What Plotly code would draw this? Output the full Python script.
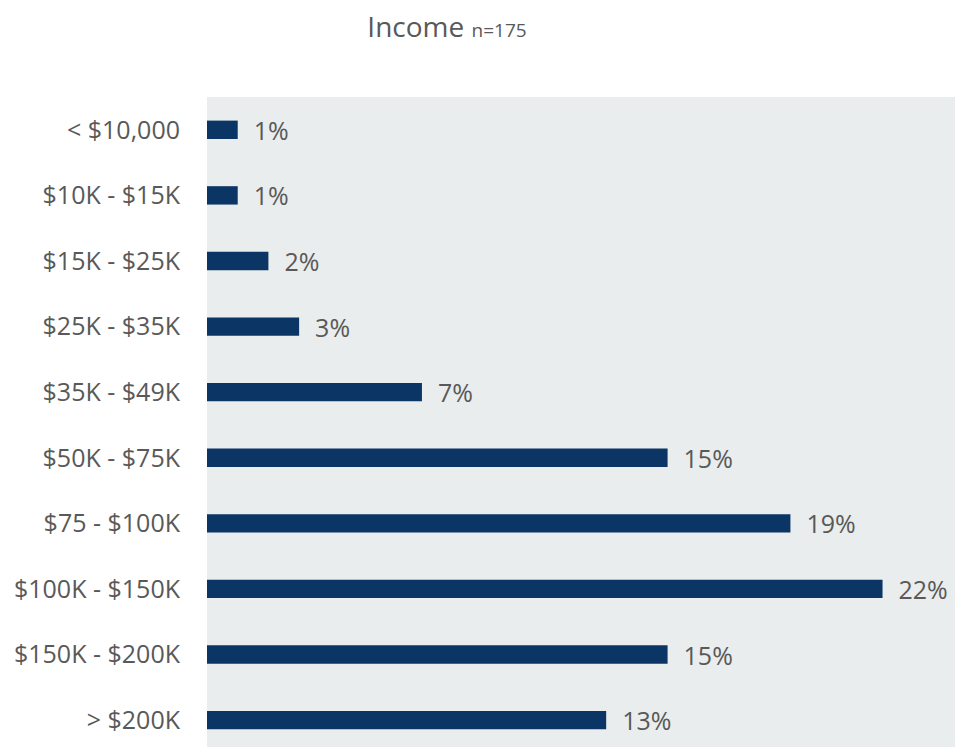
import plotly.graph_objects as go

# Household income brackets and share of respondents (%)
categories = [
    "< $10,000", "$10K - $15K", "$15K - $25K", "$25K - $35K", "$35K - $49K",
    "$50K - $75K", "$75 - $100K", "$100K - $150K", "$150K - $200K", "> $200K",
]
shares = [1, 1, 2, 3, 7, 15, 19, 22, 15, 13]

title_main = "Income"
title_sub = "n=175"

BAR_COLOR = "#0b3565"
TEXT_COLOR = "#595959"
FONT = "'Open Sans', Lato, sans-serif"

fig = go.Figure(
    go.Bar(
        x=shares,
        y=categories,
        orientation="h",
        width=0.28,
        marker=dict(color=BAR_COLOR, line=dict(width=0)),
        text=[f"  {v}%" for v in shares],
        textposition="outside",
        constraintext="none",
        textfont=dict(family=FONT, size=25, color=TEXT_COLOR),
        cliponaxis=False,
        hoverinfo="skip",
    )
)

fig.update_layout(
    width=955,
    height=747,
    margin=dict(l=207, r=0, t=97, b=0),
    paper_bgcolor="white",
    plot_bgcolor="#e9eded",
    showlegend=False,
    uniformtext=dict(mode=False),
    title=dict(
        text=f"{title_main} <span style='font-size:19px'>{title_sub}</span>",
        x=447 / 955,
        xanchor="center",
        y=1 - 27 / 747,
        yanchor="middle",
        font=dict(family=FONT, size=28, color=TEXT_COLOR),
    ),
    xaxis=dict(
        range=[0, 24.36],
        showticklabels=False,
        showgrid=False,
        zeroline=False,
        ticks="",
    ),
    yaxis=dict(
        categoryorder="array",
        categoryarray=categories,
        range=[9.41, -0.5],
        showgrid=False,
        zeroline=False,
        ticks="",
        ticklabelstandoff=26,
        tickfont=dict(family=FONT, size=25, color=TEXT_COLOR),
    ),
)

fig.write_html("out.html")
